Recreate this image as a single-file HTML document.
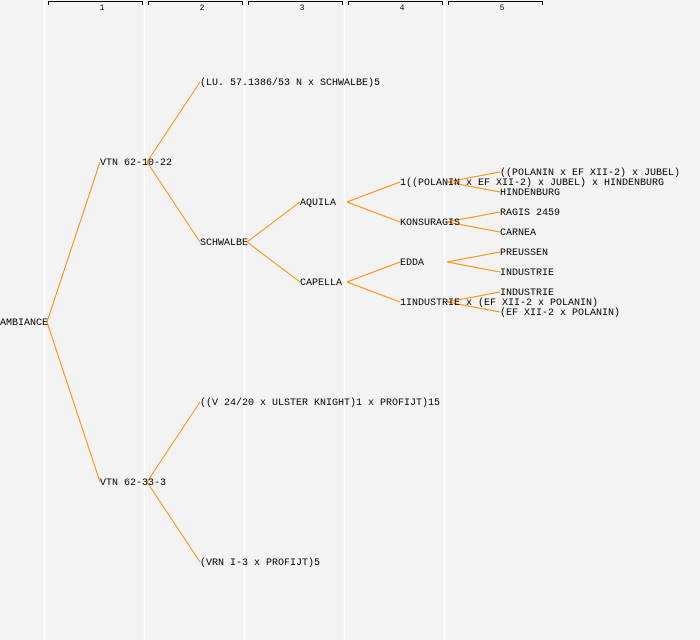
<!DOCTYPE html>
<html><head><style>
html,body{margin:0;padding:0;background:#f3f3f3;}
svg{display:block}
text{font-family:"Liberation Mono","DejaVu Sans Mono",monospace;font-size:10px;fill:#000;}
</style></head><body>
<svg width="700" height="640" xmlns="http://www.w3.org/2000/svg">
<rect width="700" height="640" fill="#f3f3f3"/>
<g stroke="#fff" stroke-width="1.5">
<line x1="44.5" y1="0" x2="44.5" y2="640"/>
<line x1="144.5" y1="0" x2="144.5" y2="640"/>
<line x1="244.5" y1="0" x2="244.5" y2="640"/>
<line x1="344.5" y1="0" x2="344.5" y2="640"/>
<line x1="444.5" y1="0" x2="444.5" y2="640"/>
</g>
<g stroke="#000" stroke-width="1" fill="none">
<path d="M48.5,5V1.5H142.5V5"/>
<path d="M148.5,5V1.5H242.5V5"/>
<path d="M248.5,5V1.5H342.5V5"/>
<path d="M348.5,5V1.5H442.5V5"/>
<path d="M448.5,5V1.5H542.5V5"/>
</g>
<g>
<text x="102" y="10" text-anchor="middle" style="font-size:8px">1</text>
<text x="202" y="10" text-anchor="middle" style="font-size:8px">2</text>
<text x="302" y="10" text-anchor="middle" style="font-size:8px">3</text>
<text x="402" y="10" text-anchor="middle" style="font-size:8px">4</text>
<text x="502" y="10" text-anchor="middle" style="font-size:8px">5</text>
</g>
<g stroke="#ff8c00" stroke-width="1" fill="none">
<path d="M47,322L100,162M47,322L100,482"/>
<path d="M147,162L200,82M147,162L200,242"/>
<path d="M147,482L200,402M147,482L200,562"/>
<path d="M247,242L300,202M247,242L300,282"/>
<path d="M347,202L400,182M347,202L400,222"/>
<path d="M347,282L400,262M347,282L400,302"/>
<path d="M447,182L500,172M447,182L500,192"/>
<path d="M447,222L500,212M447,222L500,232"/>
<path d="M447,262L500,252M447,262L500,272"/>
<path d="M447,302L500,292M447,302L500,312"/>
</g>
<g>
<text x="0" y="325">AMBIANCE</text>
<text x="100" y="165">VTN 62-10-22</text>
<text x="100" y="485">VTN 62-33-3</text>
<text x="200" y="85">(LU. 57.1386/53 N x SCHWALBE)5</text>
<text x="200" y="245">SCHWALBE</text>
<text x="200" y="405">((V 24/20 x ULSTER KNIGHT)1 x PROFIJT)15</text>
<text x="200" y="565">(VRN I-3 x PROFIJT)5</text>
<text x="300" y="205">AQUILA</text>
<text x="300" y="285">CAPELLA</text>
<text x="400" y="185">1((POLANIN x EF XII-2) x JUBEL) x HINDENBURG</text>
<text x="400" y="225">KONSURAGIS</text>
<text x="400" y="265">EDDA</text>
<text x="400" y="305">1INDUSTRIE x (EF XII-2 x POLANIN)</text>
<text x="500" y="175">((POLANIN x EF XII-2) x JUBEL)</text>
<text x="500" y="195">HINDENBURG</text>
<text x="500" y="215">RAGIS 2459</text>
<text x="500" y="235">CARNEA</text>
<text x="500" y="255">PREUSSEN</text>
<text x="500" y="275">INDUSTRIE</text>
<text x="500" y="295">INDUSTRIE</text>
<text x="500" y="315">(EF XII-2 x POLANIN)</text>
</g>
</svg>
</body></html>
